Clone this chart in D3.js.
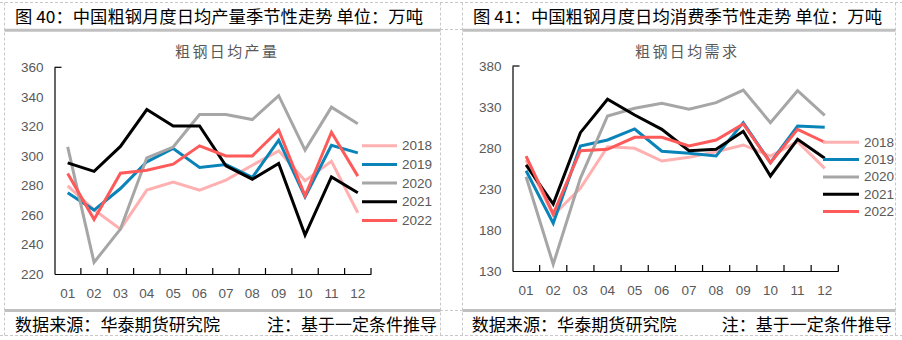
<!DOCTYPE html>
<html><head><meta charset="utf-8">
<script src="https://cdn.jsdelivr.net/npm/d3@7"></script>
<style>html,body{margin:0;padding:0;background:#fff;}svg{display:block;}</style>
</head><body>
<svg id="c" width="902" height="340"></svg>
<script>
const months = ["01","02","03","04","05","06","07","08","09","10","11","12"];
const years = ["2018","2019","2020","2021","2022"];
const colors = ["#FFB0B0","#0A84B8","#A6A6A6","#000000","#FF5A5A"];

// 粗钢日均产量 (万吨)
const prod2018 = [279.7,263.5,250.4,276.8,282.2,276.8,283.6,293.7,303.4,283.1,296.4,261.5];
const prod2019 = [275.0,263.3,277.9,296.0,305.0,292.2,294.2,285.4,310.6,272.3,307.2,302.0];
const prod2020 = [306.1,227.9,250.4,298.7,306.0,328.0,328.0,324.6,340.8,303.9,333.0,321.7];
const prod2021 = [295.3,289.5,306.4,331.4,320.3,320.3,293.2,284.2,294.9,246.4,285.8,275.0];
const prod2022 = [288.1,257.0,288.3,290.3,294.4,306.8,300.0,300.0,317.4,273.0,316.0,286.3];
const prodTicks = [220,240,260,280,300,320,340,360];

// 粗钢日均需求 (万吨)
const dem2018 = [265.4,198.0,230.8,281.6,279.6,264.1,268.6,275.5,283.7,270.2,287.7,255.2];
const dem2019 = [252.3,188.2,282.4,289.8,303.2,276.0,273.5,270.2,310.9,262.1,306.8,305.2];
const dem2020 = [245.0,138.2,243.0,319.0,328.4,334.5,327.2,335.3,350.7,310.9,349.9,319.9];
const dem2021 = [259.3,211.7,298.7,339.4,320.2,302.8,276.7,278.4,300.4,245.9,290.6,267.4];
const dem2022 = [270.2,199.5,276.7,278.4,293.0,293.0,282.4,289.8,309.3,262.1,302.8,287.0];
const demTicks = [130,180,230,280,330,380];

const headers = ["图 40：中国粗钢月度日均产量季节性走势 单位：万吨","图 41：中国粗钢月度日均消费季节性走势 单位：万吨"];
const titles = ["粗钢日均产量","粗钢日均需求"];
const sourceText = "数据来源：华泰期货研究院";
const noteText = "注：基于一定条件推导";

const svg = d3.select("#c");
const CJK = "'Noto Sans CJK SC','Noto Sans',sans-serif";
const LAT = "'Liberation Sans',Arial,sans-serif";

// table grid (dashed)
const dash = svg.append("g").attr("stroke","#c8c8c8").attr("stroke-width",1).attr("stroke-dasharray","3,2").attr("fill","none");
[[0,902,2.5],[440,462,29.5],[440,462,310.5],[0,902,335.5]].forEach(([a,b,y])=>{
  dash.append("line").attr("x1",a).attr("x2",b).attr("y1",y).attr("y2",y);
});
[4.5,440.5,462.5,895.5].forEach(x=>{
  dash.append("line").attr("x1",x).attr("x2",x).attr("y1",2.5).attr("y2",335.5);
});

const panels = [
  {px0:4.5, px1:440.5, x0:54.5, x1:371, yTop:67.3, yBot:274, domain:[220,360], ticks:prodTicks,
   series:[prod2018,prod2019,prod2020,prod2021,prod2022],
   hx:15, hw:408, tcx:226, sx:15, nx1:437, lx0:362, lx1:397, ltx:402, ly0:145.7, ldy:18.7},
  {px0:462.5, px1:895.5, x0:512.5, x1:838.3, yTop:66, yBot:271, domain:[130,380], ticks:demTicks,
   series:[dem2018,dem2019,dem2020,dem2021,dem2022],
   hx:473, hw:409, tcx:686, sx:471.7, nx1:891.7, lx0:823, lx1:859, ltx:864, ly0:142.3, ldy:17.3}
];

panels.forEach((p,pi)=>{
  const g = svg.append("g");
  // header
  g.append("text").attr("x",p.hx).attr("y",16).attr("dominant-baseline","central")
    .attr("font-family",CJK).attr("font-size",16.5).attr("fill","#000")
    .attr("textLength",p.hw).attr("lengthAdjust","spacingAndGlyphs").text(headers[pi]);
  g.append("line").attr("x1",p.px0).attr("x2",p.px1).attr("y1",30.3).attr("y2",30.3)
    .attr("stroke","#c0c0c0").attr("stroke-width",3);
  // footer
  g.append("line").attr("x1",p.px0).attr("x2",p.px1).attr("y1",310.5).attr("y2",310.5)
    .attr("stroke","#c0c0c0").attr("stroke-width",3);
  g.append("text").attr("x",p.sx).attr("y",323.5).attr("dominant-baseline","central")
    .attr("font-family",CJK).attr("font-size",16.5).attr("fill","#000")
    .attr("textLength",205).attr("lengthAdjust","spacingAndGlyphs").text(sourceText);
  g.append("text").attr("x",p.nx1-170).attr("y",323.5).attr("dominant-baseline","central")
    .attr("font-family",CJK).attr("font-size",16.5).attr("fill","#000")
    .attr("textLength",170).attr("lengthAdjust","spacingAndGlyphs").text(noteText);
  // chart title
  g.append("text").attr("x",p.tcx).attr("y",50).attr("dominant-baseline","central").attr("text-anchor","middle")
    .attr("font-family",CJK).attr("font-size",15).attr("fill","#595959")
    .attr("textLength",102).attr("lengthAdjust","spacing").text(titles[pi]);

  const x = d3.scaleBand().domain(months).range([p.x0,p.x1]);
  const y = d3.scaleLinear().domain(p.domain).range([p.yBot,p.yTop]);

  // y axis
  const ya = g.append("g").attr("transform",`translate(${p.x0},0)`)
    .call(d3.axisLeft(y).tickValues(p.ticks).tickSize(0).tickPadding(11).tickFormat(d3.format("d")));
  ya.select(".domain").attr("stroke","#000").attr("stroke-width",1.2);
  ya.selectAll("text").attr("font-family",LAT).attr("font-size",13.5).attr("fill","#595959");
  g.append("line").attr("x1",p.x0).attr("x2",p.x0+7).attr("y1",p.yTop).attr("y2",p.yTop)
    .attr("stroke","#000").attr("stroke-width",1.2);

  // x axis
  const xa = g.append("g").attr("transform",`translate(0,${p.yBot})`)
    .call(d3.axisBottom(x).tickSize(0).tickPadding(14));
  xa.select(".domain").attr("stroke","#000").attr("stroke-width",1.2);
  xa.selectAll("text").attr("font-family",LAT).attr("font-size",13.5).attr("fill","#595959");
  months.forEach((m,i)=>{
    const bx = x(m)+x.bandwidth();
    g.append("line").attr("x1",bx).attr("x2",bx).attr("y1",p.yBot).attr("y2",p.yBot-6)
      .attr("stroke","#000").attr("stroke-width",1.2);
  });

  // lines
  const line = d3.line().x((d,i)=>x(months[i])+x.bandwidth()/2).y(d=>y(d));
  p.series.forEach((s,si)=>{
    g.append("path").datum(s).attr("d",line).attr("fill","none")
      .attr("stroke",colors[si]).attr("stroke-width",3).attr("stroke-linejoin","miter");
  });

  // legend
  years.forEach((yr,i)=>{
    const ly = p.ly0 + i*p.ldy;
    g.append("line").attr("x1",p.lx0).attr("x2",p.lx1).attr("y1",ly).attr("y2",ly)
      .attr("stroke",colors[i]).attr("stroke-width",3);
    g.append("text").attr("x",p.ltx).attr("y",ly).attr("dominant-baseline","central")
      .attr("font-family",LAT).attr("font-size",13.5).attr("fill","#595959").text(yr);
  });
});
</script>
</body></html>
